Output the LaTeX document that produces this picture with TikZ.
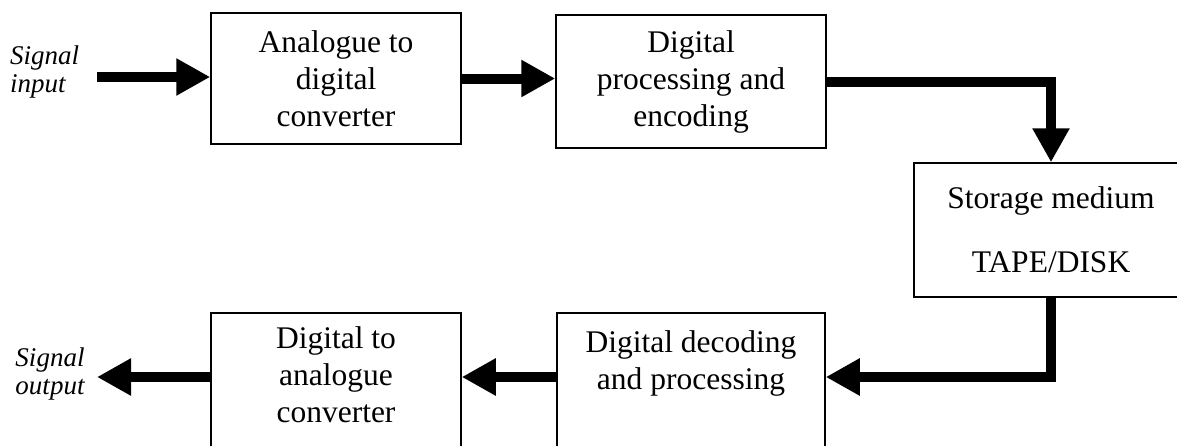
\documentclass[tikz,border=0pt]{standalone}
\usepackage{fontspec}
\setmainfont{Liberation Serif}
\usetikzlibrary{arrows.meta,calc}

\begin{document}
\begin{tikzpicture}[x=1pt,y=-1pt,>={Triangle[length=34pt,width=35pt]},
  box/.style={draw,line width=1.5pt,align=center,inner ysep=10pt,font=\fontsize{31.5}{37}\selectfont},
  openbox/.style={box,anchor=north},
  sig/.style={inner sep=0pt,font=\fontsize{27}{28}\selectfont\itshape},
  flow/.style={line width=10pt,->}]
\useasboundingbox (0,0) rectangle (1177,445);
% recording chain
\node[box,minimum width=250pt,minimum height=131pt] (adc) at (336,78.5) {Analogue to\\digital\\converter};
\node[box,minimum width=270pt,minimum height=133pt] (enc) at (691,81.5) {Digital\\processing and\\encoding};
\node[box,minimum width=274pt,minimum height=134pt] (sto) at (1051,230) {Storage medium\\[27pt]TAPE/DISK};
% playback chain (boxes run off the bottom)
\node[openbox,minimum width=268pt,text height=67pt,text depth=61pt] (dec) at (691,312) {Digital decoding\\and processing};
\node[openbox,minimum width=250pt,text height=100pt,text depth=29pt] (dac) at (336,312) {Digital to\\analogue\\converter};
\node[sig,align=left,anchor=west] (sin) at (10,72) {Signal\\input};
\node[sig,align=center] (sout) at (50,374) {Signal\\output};
\coordinate (inp) at (97,77);
\coordinate (outp) at (97,377);
\draw[flow] (inp) -- (inp -| adc.west);
\draw[flow] (adc.east) -- (adc.east -| enc.west);
\draw[flow] (enc.east) -| (sto.north);
\draw[flow] (sto.south) |- (outp -| dec.east);
\draw[flow] (outp -| dec.west) -- (outp -| dac.east);
\draw[flow] (outp -| dac.west) -- (outp);
\end{tikzpicture}
\end{document}
